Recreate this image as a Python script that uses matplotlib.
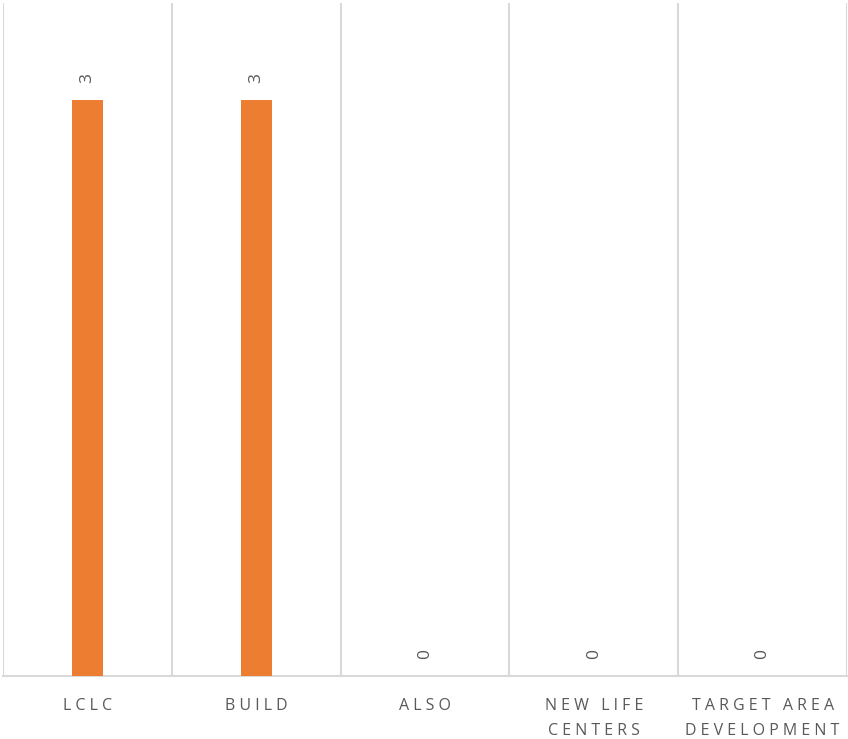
import matplotlib
matplotlib.use("Agg")
import matplotlib.pyplot as plt
import numpy as np

categories = ["LCLC", "BUILD", "ALSO", "NEW LIFE\nCENTERS", "TARGET AREA\nDEVELOPMENT"]
values = [3, 3, 0, 0, 0]

def spaced(s):
    lines = []
    for line in s.split("\n"):
        words = [" ".join(list(w)) for w in line.split(" ")]
        lines.append("   ".join(words))
    return "\n".join(lines)

plt.rcParams['font.family'] = ['Open Sans', 'DejaVu Sans']
fig = plt.figure(figsize=(8.48, 7.39), dpi=100)
ax = fig.add_axes([3/848, (739-676)/739, 844/848, 673/739])

x = np.arange(len(categories))
bars = ax.bar(x, values, width=0.183, color="#ED7D31", zorder=3)
ax.set_xlim(-0.5, len(categories) - 0.5)
ax.set_ylim(0, 3.505)

for xi, v in zip(x, values):
    ax.annotate(str(v), (xi, v), xytext=(0, 12.5), textcoords="offset points",
                ha="center", va="bottom", rotation=90, fontsize=12.5, color="#595959")

ax.set_xticks(x)
ax.set_xticklabels([spaced(c) for c in categories], fontsize=11.5, color="#595959",
                   linespacing=1.75, va="top")
ax.tick_params(axis="x", length=0, pad=16)
ax.set_yticks([])
ax.set_xticks(np.arange(-0.5, len(categories)), minor=True)
ax.tick_params(axis="x", which="minor", length=0)
ax.grid(axis="x", which="minor", color="#d9d9d9", linewidth=1.5, zorder=0)
for s in ["top", "right", "left"]:
    ax.spines[s].set_visible(False)
ax.spines["bottom"].set_color("#d9d9d9")
ax.spines["bottom"].set_linewidth(1.5)

fig.savefig("out.png", dpi=100)
